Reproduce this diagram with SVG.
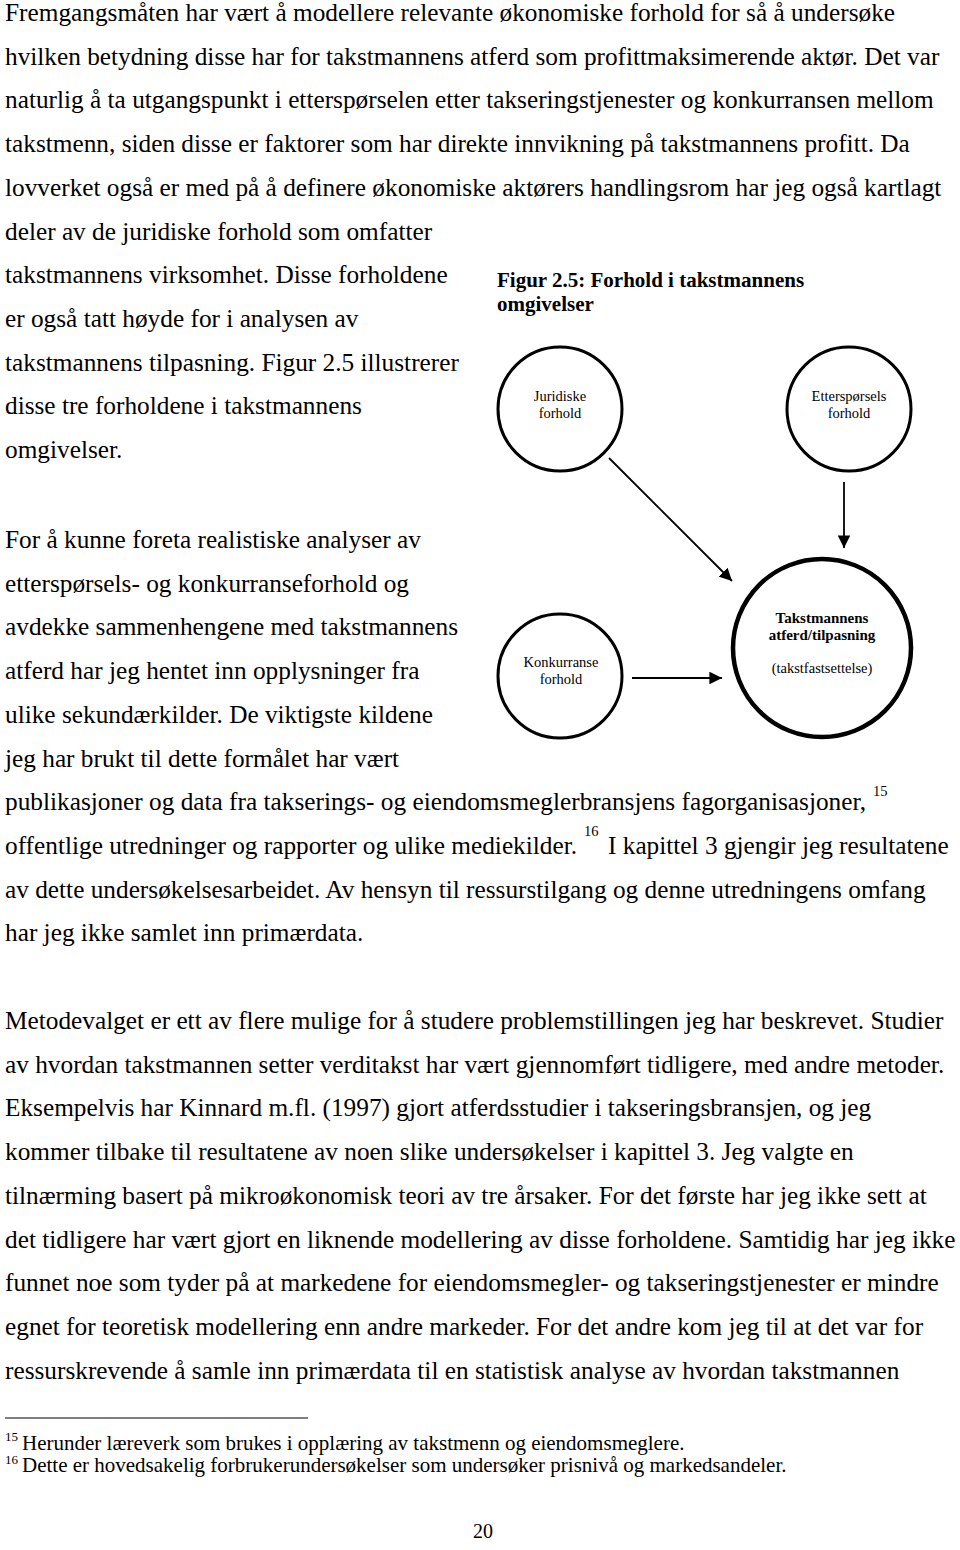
<svg xmlns="http://www.w3.org/2000/svg" width="960" height="1550" viewBox="0 0 960 1550">
<style>
.b{font-family:"Liberation Serif","Times New Roman",serif;font-size:25.3px;fill:#000}
.fn{font-family:"Liberation Serif","Times New Roman",serif;font-size:21px;fill:#000}
.sup{font-family:"Liberation Serif","Times New Roman",serif;font-size:14.5px;fill:#000}
.fsup{font-family:"Liberation Serif","Times New Roman",serif;font-size:13px;fill:#000}
.cap{font-family:"Liberation Serif","Times New Roman",serif;font-size:21px;font-weight:bold;fill:#000}
.nt{font-family:"Liberation Serif","Times New Roman",serif;font-size:14.5px;fill:#000;text-anchor:middle}
.ntb{font-family:"Liberation Serif","Times New Roman",serif;font-size:15px;font-weight:bold;fill:#000;text-anchor:middle}
.c{fill:none;stroke:#000;stroke-width:3}
.cb{fill:none;stroke:#000;stroke-width:4.5}
.ar{stroke:#000;stroke-width:1.8;fill:none;marker-end:url(#ah)}
</style>
<defs>
<marker id="ah" viewBox="0 0 10 10" refX="10" refY="5" markerWidth="7" markerHeight="7" markerUnits="strokeWidth" orient="auto">
<path d="M0,0 L10,5 L0,10 Z" fill="#000"/>
</marker>
</defs>
<rect width="960" height="1550" fill="#fff"/>
<g id="body-text">
<text class="b" x="5" y="21">Fremgangsmåten har vært å modellere relevante økonomiske forhold for så å undersøke</text>
<text class="b" x="5" y="64.7">hvilken betydning disse har for takstmannens atferd som profittmaksimerende aktør. Det var</text>
<text class="b" x="5" y="108.4">naturlig å ta utgangspunkt i etterspørselen etter takseringstjenester og konkurransen mellom</text>
<text class="b" x="5" y="152.1">takstmenn, siden disse er faktorer som har direkte innvikning på takstmannens profitt. Da</text>
<text class="b" x="5" y="195.8">lovverket også er med på å definere økonomiske aktørers handlingsrom har jeg også kartlagt</text>
<text class="b" x="5" y="239.5">deler av de juridiske forhold som omfatter</text>
<text class="b" x="5" y="283.2">takstmannens virksomhet. Disse forholdene</text>
<text class="b" x="5" y="326.9">er også tatt høyde for i analysen av</text>
<text class="b" x="5" y="370.6">takstmannens tilpasning. Figur 2.5 illustrerer</text>
<text class="b" x="5" y="414.3">disse tre forholdene i takstmannens</text>
<text class="b" x="5" y="458">omgivelser.</text>
<text class="b" x="5" y="548">For å kunne foreta realistiske analyser av</text>
<text class="b" x="5" y="591.7">etterspørsels- og konkurranseforhold og</text>
<text class="b" x="5" y="635.4">avdekke sammenhengene med takstmannens</text>
<text class="b" x="5" y="679.1">atferd har jeg hentet inn opplysninger fra</text>
<text class="b" x="5" y="722.8">ulike sekundærkilder. De viktigste kildene</text>
<text class="b" x="5" y="766.5">jeg har brukt til dette formålet har vært</text>
<text class="b" x="5" y="810.2">publikasjoner og data fra takserings- og eiendomsmeglerbransjens fagorganisasjoner,</text>
<text class="sup" x="873" y="796">15</text>
<text class="b" x="5" y="853.9">offentlige utredninger og rapporter og ulike mediekilder.</text>
<text class="sup" x="584" y="836">16</text>
<text class="b" x="608" y="853.9">I kapittel 3 gjengir jeg resultatene</text>
<text class="b" x="5" y="897.6">av dette undersøkelsesarbeidet. Av hensyn til ressurstilgang og denne utredningens omfang</text>
<text class="b" x="5" y="941.3">har jeg ikke samlet inn primærdata.</text>
<text class="b" x="5" y="1029">Metodevalget er ett av flere mulige for å studere problemstillingen jeg har beskrevet. Studier</text>
<text class="b" x="5" y="1072.7">av hvordan takstmannen setter verditakst har vært gjennomført tidligere, med andre metoder.</text>
<text class="b" x="5" y="1116.4">Eksempelvis har Kinnard m.fl. (1997) gjort atferdsstudier i takseringsbransjen, og jeg</text>
<text class="b" x="5" y="1160.1">kommer tilbake til resultatene av noen slike undersøkelser i kapittel 3. Jeg valgte en</text>
<text class="b" x="5" y="1203.8">tilnærming basert på mikroøkonomisk teori av tre årsaker. For det første har jeg ikke sett at</text>
<text class="b" x="5" y="1247.5">det tidligere har vært gjort en liknende modellering av disse forholdene. Samtidig har jeg ikke</text>
<text class="b" x="5" y="1291.2">funnet noe som tyder på at markedene for eiendomsmegler- og takseringstjenester er mindre</text>
<text class="b" x="5" y="1334.9">egnet for teoretisk modellering enn andre markeder. For det andre kom jeg til at det var for</text>
<text class="b" x="5" y="1378.6">ressurskrevende å samle inn primærdata til en statistisk analyse av hvordan takstmannen</text>
</g>
<g id="footnotes">
<line x1="5" y1="1418" x2="308" y2="1418" stroke="#000" stroke-width="1.2"/>
<text class="fsup" x="5" y="1441">15</text>
<text class="fn" x="22" y="1450">Herunder læreverk som brukes i opplæring av takstmenn og eiendomsmeglere.</text>
<text class="fsup" x="5" y="1464">16</text>
<text class="fn" x="22" y="1472">Dette er hovedsakelig forbrukerundersøkelser som undersøker prisnivå og markedsandeler.</text>
<text class="fn" x="483" y="1538" text-anchor="middle" style="font-size:20px">20</text>
</g>
<g id="caption">
<text class="cap" x="497" y="287">Figur 2.5: Forhold i takstmannens</text>
<text class="cap" x="497" y="311">omgivelser</text>
</g>
<g id="node-juridiske">
<circle class="c" cx="560" cy="409" r="62"/>
<text class="nt" x="560" y="401">Juridiske</text>
<text class="nt" x="560" y="418">forhold</text>
</g>
<g id="node-ettersporsels">
<circle class="c" cx="849" cy="409" r="62"/>
<text class="nt" x="849" y="401">Etterspørsels</text>
<text class="nt" x="849" y="418">forhold</text>
</g>
<g id="node-konkurranse">
<circle class="c" cx="560" cy="676" r="62"/>
<text class="nt" x="561" y="667">Konkurranse</text>
<text class="nt" x="561" y="684">forhold</text>
</g>
<g id="node-takstmannens">
<circle class="cb" cx="822" cy="648" r="89"/>
<text class="ntb" x="822" y="623">Takstmannens</text>
<text class="ntb" x="822" y="640">atferd/tilpasning</text>
<text class="nt" x="822" y="673">(takstfastsettelse)</text>
</g>
<g id="connectors">
<line class="ar" x1="609" y1="458" x2="732" y2="581"/>
<line class="ar" x1="844" y1="482" x2="844" y2="548"/>
<line class="ar" x1="632" y1="678" x2="722" y2="678"/>
</g>
</svg>
